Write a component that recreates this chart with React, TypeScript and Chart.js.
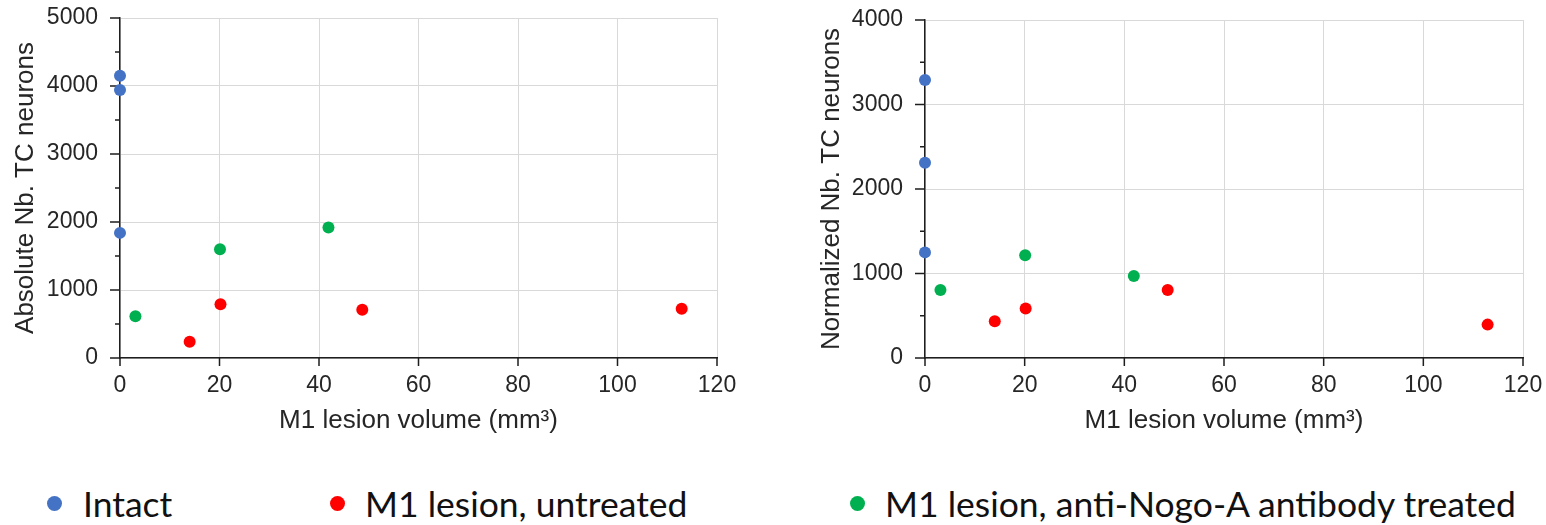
import React, { useEffect, useRef } from 'react';
import { Chart, registerables } from 'chart.js';

Chart.register(...registerables);

// ---- data ----
const intactVolume = [0, 0, 0];
const untreatedVolume = [14, 20.2, 48.7, 112.9];
const treatedVolume = [3.1, 20.1, 41.9];

const absIntact = [4150, 3940, 1840];
const absUntreated = [240, 790, 710, 725];
const absTreated = [615, 1600, 1920];

const normIntact = [3290, 2310, 1250];
const normUntreated = [435, 585, 805, 395];
const normTreated = [805, 1215, 970];

const seriesNames = ['Intact', 'M1 lesion, untreated', 'M1 lesion, anti-Nogo-A antibody treated'];
const seriesColors = ['#4472C4', '#FF0000', '#00B050'];

const xTitle = 'M1 lesion volume (mm³)';
const leftYTitle = 'Absolute Nb. TC neurons';
const rightYTitle = 'Normalized Nb. TC neurons';
const xTickStep = 20;
const xMax = 120;
const yTickStep = 1000;
const yMinorStep = 500;
const leftYMax = 5000;
const rightYMax = 4000;

// ---- styles ----
const AXIS = '#1e1e1e';
const GRID = '#d9d9d9';
const TEXT = '#262626';
const FONT = '"Liberation Sans", Arial, sans-serif';

const tickMarks = {
  id: 'tickMarks',
  beforeDatasetsDraw(chart: any) {
    const { ctx, chartArea, scales } = chart;
    const x = scales.x;
    const y = scales.y;
    ctx.save();
    ctx.strokeStyle = AXIS;
    ctx.lineWidth = 1.5;
    ctx.beginPath();
    for (let v = y.min; v <= y.max + 1e-6; v += yMinorStep) {
      const py = y.getPixelForValue(v);
      const len = v % yTickStep === 0 ? 10 : 5;
      ctx.moveTo(chartArea.left - len, py);
      ctx.lineTo(chartArea.left, py);
    }
    x.ticks.forEach((t: any) => {
      const px = x.getPixelForValue(t.value);
      ctx.moveTo(px, chartArea.bottom);
      ctx.lineTo(px, chartArea.bottom + 8);
    });
    ctx.stroke();
    ctx.restore();
  },
};

function toPoints(xs: number[], ys: number[]) {
  return xs.map((v, i) => ({ x: v, y: ys[i] }));
}

function makeConfig(opts: {
  yTitle: string;
  yMax: number;
  intact: number[];
  untreated: number[];
  treated: number[];
  yWidth: number;
  padTop: number;
  padRight: number;
  yTitlePad: number;
}): any {
  const sets = [
    toPoints(intactVolume, opts.intact),
    toPoints(untreatedVolume, opts.untreated),
    toPoints(treatedVolume, opts.treated),
  ];
  return {
    type: 'scatter',
    data: {
      datasets: sets.map((d, i) => ({
        label: seriesNames[i],
        data: d,
        backgroundColor: seriesColors[i],
        borderColor: seriesColors[i],
        borderWidth: 0,
        pointRadius: 6,
        clip: false,
      })),
    },
    plugins: [tickMarks],
    options: {
      responsive: false,
      animation: false,
      devicePixelRatio: 1,
      layout: { padding: { left: 0, top: opts.padTop, right: opts.padRight, bottom: 0 } },
      plugins: { legend: { display: false }, tooltip: { enabled: false } },
      scales: {
        x: {
          type: 'linear',
          min: 0,
          max: xMax,
          ticks: {
            stepSize: xTickStep,
            padding: 0,
            color: TEXT,
            font: { family: FONT, size: 23 },
            callback: (v: any) => String(v),
          },
          grid: { color: GRID, lineWidth: 1, drawTicks: true, tickLength: 14, tickColor: 'rgba(0,0,0,0)' },
          border: { color: AXIS, width: 1.5 },
          title: {
            display: true,
            text: xTitle,
            color: TEXT,
            font: { family: FONT, size: 26 },
            padding: { top: 0, bottom: 4 },
          },
          afterFit: (s: any) => {
            s.height = 82;
          },
        },
        y: {
          type: 'linear',
          min: 0,
          max: opts.yMax,
          ticks: {
            stepSize: yTickStep,
            padding: 0,
            color: TEXT,
            font: { family: FONT, size: 23 },
            callback: (v: any) => String(v),
          },
          grid: { color: GRID, lineWidth: 1, drawTicks: true, tickLength: 22, tickColor: 'rgba(0,0,0,0)' },
          border: { color: AXIS, width: 1.5 },
          title: {
            display: true,
            text: opts.yTitle,
            color: TEXT,
            font: { family: FONT, size: 26 },
            padding: { top: opts.yTitlePad, bottom: 0 },
          },
          afterFit: (s: any) => {
            s.width = opts.yWidth;
          },
        },
      },
    },
  };
}

function ScatterPanel(props: { left: number; width: number; height: number; config: any }) {
  const ref = useRef<HTMLCanvasElement | null>(null);
  useEffect(() => {
    if (!ref.current) return;
    const chart = new Chart(ref.current, props.config);
    return () => chart.destroy();
  }, []);
  return (
    <div style={{ position: 'absolute', left: props.left, top: 0, width: props.width, height: props.height }}>
      <canvas
        ref={ref}
        width={props.width}
        height={props.height}
        style={{ width: props.width, height: props.height, display: 'block' }}
      />
    </div>
  );
}

const legendDotX = [54, 337, 857];
const legendTextX = [83, 365, 885];

export default function App() {
  const leftConfig = makeConfig({
    yTitle: leftYTitle,
    yMax: leftYMax,
    intact: absIntact,
    untreated: absUntreated,
    treated: absTreated,
    yWidth: 120,
    padTop: 18,
    padRight: 53,
    yTitlePad: 10,
  });
  const rightConfig = makeConfig({
    yTitle: rightYTitle,
    yMax: rightYMax,
    intact: normIntact,
    untreated: normUntreated,
    treated: normTreated,
    yWidth: 145,
    padTop: 20,
    padRight: 23,
    yTitlePad: 36,
  });
  return (
    <div
      style={{
        position: 'absolute',
        left: 0,
        top: 0,
        width: 1546,
        height: 525,
        background: '#fff',
        overflow: 'hidden',
      }}
    >
      <ScatterPanel left={0} width={770} height={440} config={leftConfig} />
      <ScatterPanel left={780} width={766} height={440} config={rightConfig} />
      {seriesNames.map((name, i) => (
        <React.Fragment key={name}>
          <div
            style={{
              position: 'absolute',
              left: legendDotX[i] - 7.5,
              top: 503 - 7.5,
              width: 15,
              height: 15,
              borderRadius: '50%',
              background: seriesColors[i],
            }}
          />
          <div
            style={{
              position: 'absolute',
              left: legendTextX[i],
              top: 486,
              fontFamily: 'Lato, "Open Sans", sans-serif',
              fontSize: 35.5,
              lineHeight: '35.5px',
              color: '#111',
              whiteSpace: 'nowrap',
            }}
          >
            {name}
          </div>
        </React.Fragment>
      ))}
    </div>
  );
}
